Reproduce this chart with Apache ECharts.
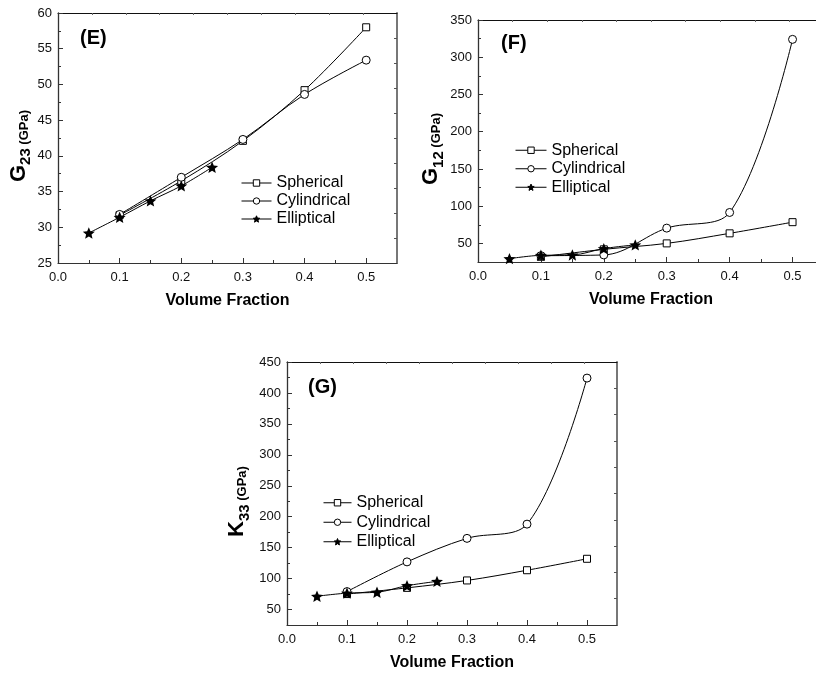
<!DOCTYPE html>
<html>
<head>
<meta charset="utf-8">
<title>Effective moduli vs. volume fraction</title>
<script src="https://cdn.jsdelivr.net/npm/echarts@6/dist/echarts.min.js"></script>
<style>
  html, body { margin: 0; padding: 0; background: #fff; }
  #chart { width: 816px; height: 674px; }
</style>
</head>
<body>
<div id="chart"></div>
<script>
// Volume fractions sampled for each inclusion shape
const sphericalFraction = [0.1, 0.2, 0.3, 0.4, 0.5];
const cylindricalFraction = [0.1, 0.2, 0.3, 0.4, 0.5];
const ellipticalFraction = [0.05, 0.1, 0.15, 0.2, 0.25];

// (E) G23 in GPa
const g23Spherical = [31.7, 36.5, 42.1, 49.2, 58.0];
const g23Cylindrical = [31.8, 37.0, 42.3, 48.6, 53.4];
const g23Elliptical = [29.2, 31.4, 33.7, 35.8, 38.4];

// (F) G12 in GPa
const g12Spherical = [32, 42, 50, 63.5, 78.5];
const g12Cylindrical = [33.5, 34.5, 70.5, 91.5, 324];
const g12Elliptical = [29.5, 34, 34.5, 43, 48];

// (G) K33 in GPa
const k33Spherical = [75, 85, 97, 113.5, 132];
const k33Cylindrical = [79, 127, 165, 188, 424];
const k33Elliptical = [71.5, 76.5, 78, 88.5, 95.5];

// Tick labels
const xTickLabels = [0.0, 0.1, 0.2, 0.3, 0.4, 0.5];
const xMinorTicks = [0.05, 0.15, 0.25, 0.35, 0.45];
const g23Ticks = [25, 30, 35, 40, 45, 50, 55, 60];
const g23MinorTicks = [27.5, 32.5, 37.5, 42.5, 47.5, 52.5, 57.5];
const g12Ticks = [50, 100, 150, 200, 250, 300, 350];
const g12MinorTicks = [75, 125, 175, 225, 275, 325];
const k33Ticks = [50, 100, 150, 200, 250, 300, 350, 400, 450];
const k33MinorTicks = [75, 125, 175, 225, 275, 325, 375, 425];

const seriesNames = ['Spherical', 'Cylindrical', 'Elliptical'];

const FONT = '"Liberation Sans", Arial, Helvetica, sans-serif';
const AXIS = '#333';
const STAR = 'path://M0,-10 L2.645,-3.641 L9.511,-3.09 L4.28,1.391 L5.878,8.09 L0,4.5 L-5.878,8.09 L-4.28,1.391 L-9.511,-3.09 L-2.645,-3.641 Z';

const zip = (xs, ys) => xs.map((x, i) => [x, ys[i]]);
const tenths = (min, max) => Array.from({ length: 9 }, (_, k) => min + (k + 1) * (max - min) / 10);

const grids = [
  { left: 58, top: 13, width: 339, height: 250 },
  { left: 478, top: 20, width: 346, height: 242 },
  { left: 287, top: 362, width: 330, height: 263 }
].map(g => Object.assign({ containLabel: false, outerBoundsMode: 'none' }, g));

const xAxes = [];
const yAxes = [];
const series = [];

function yName(letter, sub) {
  return '{g|' + letter + '}{s|' + sub + '}{u| (GPa)}';
}

function addPanel(p) {
  const gi = p.grid;
  const xMin = 0, xMax = 0.55;
  const xMain = xAxes.length;
  xAxes.push({
    type: 'value', gridIndex: gi, position: 'bottom', min: xMin, max: xMax,
    axisLine: { show: true, onZero: false, lineStyle: { color: AXIS, width: 1.2 } },
    axisTick: { show: true, inside: true, length: 5, customValues: xTickLabels, lineStyle: { color: AXIS } },
    axisLabel: { customValues: xTickLabels, formatter: v => v.toFixed(1), margin: 8, fontSize: 13, color: '#111', fontFamily: FONT },
    splitLine: { show: false },
    name: 'Volume Fraction', nameLocation: 'middle', nameGap: 30,
    nameTextStyle: { fontSize: 16, fontWeight: 'bold', color: '#000', fontFamily: FONT }
  });
  xAxes.push({
    type: 'value', gridIndex: gi, position: 'bottom', min: xMin, max: xMax,
    axisLine: { show: false, onZero: false },
    axisTick: { show: true, inside: true, length: 3, customValues: xMinorTicks, lineStyle: { color: AXIS } },
    axisLabel: { show: false }, splitLine: { show: false }
  });
  xAxes.push({
    type: 'value', gridIndex: gi, position: 'top', min: xMin, max: xMax,
    axisLine: { show: true, onZero: false, lineStyle: { color: '#111', width: 1 } },
    axisTick: { show: true, inside: true, length: 2, customValues: tenths(xMin, xMax), lineStyle: { color: '#666' } },
    axisLabel: { show: false }, splitLine: { show: false }
  });

  const yMain = yAxes.length;
  yAxes.push({
    type: 'value', gridIndex: gi, position: 'left', min: p.yMin, max: p.yMax,
    axisLine: { show: true, onZero: false, lineStyle: { color: AXIS, width: 1.3 } },
    axisTick: { show: true, inside: true, length: 5, customValues: p.yTicks, lineStyle: { color: AXIS } },
    axisLabel: { customValues: p.yTicks, margin: 6, fontSize: 13, color: '#111', fontFamily: FONT },
    splitLine: { show: false },
    name: p.yName, nameLocation: 'middle', nameGap: p.nameGap, nameRotate: 90,
    nameTextStyle: {
      color: '#000', fontFamily: FONT, padding: [0, 16, 0, 0],
      rich: {
        g: { fontSize: 22, fontWeight: 'bold', fontFamily: FONT, color: '#000', verticalAlign: 'top', lineHeight: 24 },
        s: { fontSize: 15, fontWeight: 'bold', fontFamily: FONT, color: '#000', verticalAlign: 'top', padding: [11, 0, 0, 0] },
        u: { fontSize: 13, fontWeight: 'bold', fontFamily: FONT, color: '#000', verticalAlign: 'top', padding: [10, 0, 0, 0] }
      }
    }
  });
  yAxes.push({
    type: 'value', gridIndex: gi, position: 'left', min: p.yMin, max: p.yMax,
    axisLine: { show: false, onZero: false },
    axisTick: { show: true, inside: true, length: 3, customValues: p.yMinor, lineStyle: { color: AXIS } },
    axisLabel: { show: false }, splitLine: { show: false }
  });
  yAxes.push({
    type: 'value', gridIndex: gi, position: 'right', min: p.yMin, max: p.yMax,
    axisLine: { show: true, onZero: false, lineStyle: { color: '#777', width: 2 } },
    axisTick: { show: true, inside: true, length: 3, customValues: tenths(p.yMin, p.yMax), lineStyle: { color: '#555' } },
    axisLabel: { show: false }, splitLine: { show: false }
  });

  const common = {
    type: 'line', xAxisIndex: xMain, yAxisIndex: yMain, smooth: 0.35,
    lineStyle: { color: '#000', width: 1 }, symbolKeepAspect: true
  };
  series.push(Object.assign({}, common, {
    name: 'Spherical', data: zip(sphericalFraction, p.spherical),
    symbol: 'rect', symbolSize: 7,
    itemStyle: { color: '#fff', borderColor: '#000', borderWidth: 1 }
  }));
  series.push(Object.assign({}, common, {
    name: 'Cylindrical', data: zip(cylindricalFraction, p.cylindrical),
    symbol: 'circle', symbolSize: 8,
    itemStyle: { color: '#fff', borderColor: '#000', borderWidth: 1 }
  }));
  series.push(Object.assign({}, common, {
    name: 'Elliptical', data: zip(ellipticalFraction, p.elliptical),
    symbol: STAR, symbolSize: 12,
    itemStyle: { color: '#000', borderColor: '#000', borderWidth: 0 }
  }));
}

addPanel({ grid: 0, yMin: 25, yMax: 60, yTicks: g23Ticks, yMinor: g23MinorTicks,
  yName: yName('G', '23'), nameGap: 21,
  spherical: g23Spherical, cylindrical: g23Cylindrical, elliptical: g23Elliptical });
addPanel({ grid: 1, yMin: 25, yMax: 350, yTicks: g12Ticks, yMinor: g12MinorTicks,
  yName: yName('G', '12'), nameGap: 26,
  spherical: g12Spherical, cylindrical: g12Cylindrical, elliptical: g12Elliptical });
addPanel({ grid: 2, yMin: 25, yMax: 450, yTicks: k33Ticks, yMinor: k33MinorTicks,
  yName: yName('K', '33'), nameGap: 35,
  spherical: k33Spherical, cylindrical: k33Cylindrical, elliptical: k33Elliptical });

function legendAt(left, top, itemWidth, rowHeight) {
  return {
    data: seriesNames, orient: 'vertical', left: left, top: top, padding: 0,
    itemWidth: itemWidth, itemHeight: 8, itemGap: 0, selectedMode: false,
    lineStyle: { width: 1, color: '#000' },
    itemStyle: { borderWidth: 1 },
    textStyle: { fontSize: 16, lineHeight: rowHeight, color: '#000', fontFamily: FONT }
  };
}

function panelLabel(text, left, top) {
  return {
    type: 'text', left: left, top: top,
    style: { text: text, font: 'bold 20px ' + FONT, fill: '#000' }
  };
}

const chart = echarts.init(document.getElementById('chart'), null, { renderer: 'canvas' });
chart.setOption({
  backgroundColor: '#fff',
  animation: false,
  grid: grids,
  xAxis: xAxes,
  yAxis: yAxes,
  legend: [
    legendAt(241, 174, 30, 18),
    legendAt(515, 141, 31, 18.5),
    legendAt(323, 493, 28, 19.5)
  ],
  graphic: [
    panelLabel('(E)', 80, 28),
    panelLabel('(F)', 501, 33),
    panelLabel('(G)', 308, 377)
  ],
  series: series
});
</script>
</body>
</html>
